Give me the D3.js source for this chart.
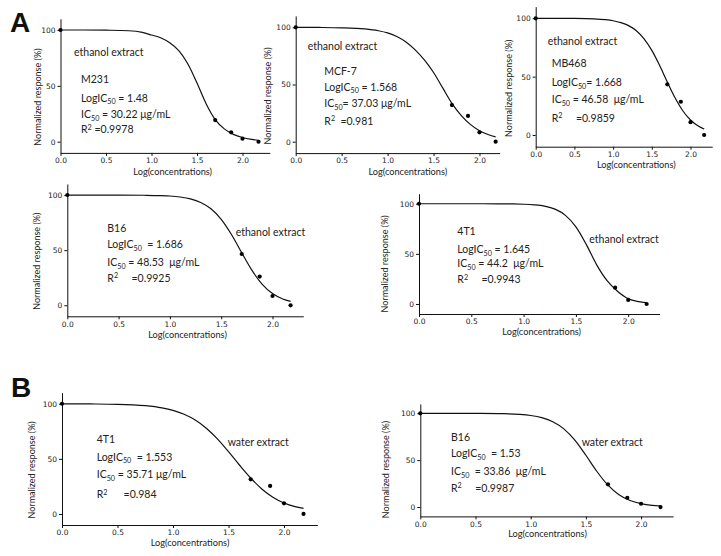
<!DOCTYPE html>
<html>
<head>
<meta charset="utf-8">
<script src="https://cdn.jsdelivr.net/npm/d3@7/dist/d3.min.js"></script>
<style>
  html, body { margin: 0; padding: 0; background: #fff; }
  svg { display: block; }
  text { white-space: pre; }
</style>
</head>
<body>
<svg id="chart" width="721" height="556"></svg>
<script>
// ---------------- DATA ----------------
const xTicks = [0, 0.5, 1.0, 1.5, 2.0];
const yTicks = [0, 50, 100];

// dose points (log concentration)
const doseX = [0, 1.7, 1.875, 2.0, 2.176];
const doseX4T1Eth = [0, 1.875, 2.0, 2.176];

// measured responses (%)
const m231Y     = [100, 19.4, 8.4, 2.7, 0];
const mcf7Y     = [100, 32, 22.5, 8.2, 0];
const mb468Y    = [100, 43.4, 28.5, 11, 0];
const b16EthY   = [100, 46.5, 26, 8.4, 0];
const t41EthY   = [100, 16.3, 4, 0];
const t41WatY   = [100, 31.4, 25.4, 9.7, 0];
const b16WatY   = [100, 24.2, 9.9, 3.5, 0];

// fitted curve at these x positions
const curveX = [0, 0.25, 0.5, 0.75, 0.9, 1.0, 1.1, 1.2, 1.3, 1.4, 1.5, 1.6, 1.7, 1.8, 1.9, 2.0, 2.1, 2.176];
const m231Fit   = [100, 100, 99.8, 99.3, 97.8, 95.5, 93, 88.5, 81.5, 69.5, 52.5, 34, 19.8, 11.5, 6.6, 3.8, 2.1, 1.2];
const mcf7Fit   = [100, 99.9, 99.6, 98.6, 97.0, 95.1, 92.0, 87.2, 80.3, 71.5, 60.5, 47, 33.5, 23.0, 15.1, 9.6, 6.0, 4.2];
const mb468Fit  = [100, 100, 99.9, 99.5, 98.8, 97.9, 96.3, 93.7, 89.3, 82.4, 72.5, 59.7, 45.4, 31.9, 20.8, 12.9, 7.7, 5.1];
const b16EthFit = [100, 100, 100, 99.8, 99.5, 99.1, 98.2, 96.5, 93.2, 87.5, 78.0, 64.2, 47.6, 31.6, 19.0, 10.6, 5.7, 3.5];
const t41EthFit = [100, 100, 100, 99.9, 99.8, 99.5, 98.9, 97.6, 94.6, 88.4, 76.9, 59.2, 38.8, 23, 12.5, 5.2, 2.3, 1.2];
const t41WatFit = [99.95, 99.8, 99.5, 98.2, 96.2, 93.9, 90.4, 85.2, 77.8, 68.1, 56.5, 44.2, 32.6, 22.7, 15.2, 9.9, 6.6, 5.0];
const b16WatFit = [100, 100, 99.9, 99.6, 98.8, 97.6, 95.3, 91.0, 83.4, 71.4, 55.2, 37.9, 23.3, 13.1, 6.9, 3.6, 1.8, 1.1];

// annotation texts
const m231Text   = ["M231", "LogIC_{50} = 1.48", "IC_{50} = 30.22 μg/mL", "R^{2} =0.9978"];
const mcf7Text   = ["MCF-7", "LogIC_{50} = 1.568", "IC_{50}= 37.03 μg/mL", "R^{2}  =0.981"];
const mb468Text  = ["MB468", "LogIC_{50}= 1.668", "IC_{50} = 46.58  μg/mL", "R^{2}     =0.9859"];
const b16EthText = ["B16", "LogIC_{50}  = 1.686", "IC_{50} = 48.53  μg/mL", "R^{2}     =0.9925"];
const t41EthText = ["4T1", "LogIC_{50} = 1.645", "IC_{50} = 44.2  μg/mL", "R^{2}     =0.9943"];
const t41WatText = ["4T1", "LogIC_{50}  = 1.553", "IC_{50} = 35.71 μg/mL", "R^{2}      =0.984"];
const b16WatText = ["B16", "LogIC_{50}  = 1.53", "IC_{50}  = 33.86  μg/mL", "R^{2}     =0.9987"];

const yLabel = "Normalized response (%)";
const xLabel = "Log(concentrations)";

// ---------------- LAYOUT ----------------
const panels = [
  {px: doseX, py: m231Y, fit: m231Fit, text: m231Text, ext: "ethanol extract",
   L: 60.5, R: 269.8, xMax: 2.3, T: 18.8, B: 152.9,
   extPos: [74, 56], blk: [81, [83.3, 101.7, 118.3, 133.3]], yl: 37, xl: [172.7, 175]},
  {px: doseX, py: mcf7Y, fit: mcf7Fit, text: mcf7Text, ext: "ethanol extract",
   L: 295.7, R: 499.7, xMax: 2.22, T: 15.9, B: 153.1,
   extPos: [307.7, 50], blk: [324.3, [75, 90.7, 107.3, 125]], yl: 267.5, xl: [407.8, 174.5]},
  {px: doseX, py: mb468Y, fit: mb468Fit, text: mb468Text, ext: "ethanol extract",
   L: 535.7, R: 712.2, xMax: 2.28, T: 6.6, B: 146.7,
   extPos: [547.7, 45], blk: [551.7, [66.7, 86, 103.3, 121.7]], yl: 508.5, xl: [636.3, 168]},
  {px: doseX, py: b16EthY, fit: b16EthFit, text: b16EthText, ext: "ethanol extract",
   L: 67.3, R: 303.3, xMax: 2.3, T: 184, B: 316.3,
   extPos: [235.7, 236], blk: [107.3, [231.7, 248.3, 266, 281.7]], yl: 36.5, xl: [187.5, 337.5]},
  {px: doseX4T1Eth, py: t41EthY, fit: t41EthFit, text: t41EthText, ext: "ethanol extract",
   L: 419, R: 659.6, xMax: 2.3, T: 193.7, B: 314,
   extPos: [589.3, 243.3], blk: [457.3, [235, 253.3, 267.3, 283.3]], yl: 384.5, xl: [541.7, 335]},
  {px: doseX, py: t41WatY, fit: t41WatFit, text: t41WatText, ext: "water extract",
   L: 62, R: 317.3, xMax: 2.3, T: 392.7, B: 525,
   extPos: [227.7, 446], blk: [96.7, [442.7, 460.7, 478.3, 498.3]], yl: 31.5, xl: [190, 546]},
  {px: doseX, py: b16WatY, fit: b16WatFit, text: b16WatText, ext: "water extract",
   L: 420.3, R: 673.1, xMax: 2.29, T: 403.9, B: 516.4,
   extPos: [581.7, 446], blk: [451, [440.7, 457.3, 475, 491.7]], yl: 385, xl: [547.5, 536.5]}
];

const svg = d3.select("#chart");
const annFont = "Lato, 'Open Sans', sans-serif";
const tickFont = "'DejaVu Sans', Verdana, sans-serif";

function addRich(sel, str) {
  // parse _{..} subscripts and ^{..} superscripts
  const re = /(_\{[^}]*\}|\^\{[^}]*\})/g;
  const parts = str.split(re).filter(s => s.length);
  let shift = 0;
  parts.forEach(p => {
    if (p.startsWith("_{")) {
      sel.append("tspan").attr("dy", 2.6 - shift).attr("font-size", 7.2).text(p.slice(2, -1));
      shift = 2.6;
    } else if (p.startsWith("^{")) {
      sel.append("tspan").attr("dy", -3.8 - shift).attr("font-size", 7.2).text(p.slice(2, -1));
      shift = -3.8;
    } else {
      sel.append("tspan").attr("dy", -shift).text(p);
      shift = 0;
    }
  });
}

panels.forEach(p => {
  const x = d3.scaleLinear().domain([0, p.xMax]).range([p.L, p.R]);
  const y = d3.scaleLinear().domain([-10, 110]).range([p.B, p.T]);
  const g = svg.append("g");

  const xa = g.append("g").attr("transform", `translate(0,${p.B})`)
    .call(d3.axisBottom(x).tickValues(xTicks).tickFormat(d3.format(".1f")).tickSize(3).tickSizeOuter(0).tickPadding(2));
  const ya = g.append("g").attr("transform", `translate(${p.L},0)`)
    .call(d3.axisLeft(y).tickValues(yTicks).tickSize(3).tickSizeOuter(0).tickPadding(2));
  [xa, ya].forEach(a => {
    a.selectAll("path, line").attr("stroke", "#111").attr("stroke-width", 1);
    a.selectAll("text").attr("font-family", tickFont).attr("font-size", 7.5).attr("fill", "#222");
  });

  // fitted curve
  const line = d3.line().x(d => x(d[0])).y(d => y(d[1])).curve(d3.curveMonotoneX);
  g.append("path").datum(curveX.map((v, i) => [v, p.fit[i]]))
    .attr("d", line).attr("fill", "none").attr("stroke", "#111").attr("stroke-width", 1.2);

  // points
  g.selectAll("circle.pt").data(p.px.map((v, i) => [v, p.py[i]])).enter()
    .append("circle").attr("cx", d => x(d[0])).attr("cy", d => y(d[1]))
    .attr("r", 2.1).attr("fill", "#000");

  // axis labels
  g.append("text").attr("transform", `translate(${p.yl},${y(40)}) rotate(-90)`)
    .attr("text-anchor", "middle").attr("dominant-baseline", "central")
    .attr("font-family", annFont).attr("font-size", 9).attr("fill", "#222").text(yLabel);
  g.append("text").attr("x", p.xl[0]).attr("y", p.xl[1]).attr("text-anchor", "middle")
    .attr("font-family", annFont).attr("font-size", 9.2).attr("fill", "#222").text(xLabel);

  // extract label
  g.append("text").attr("x", p.extPos[0]).attr("y", p.extPos[1])
    .attr("font-family", annFont).attr("font-size", 10.5).attr("fill", "#222").text(p.ext);

  // annotation block
  p.text.forEach((t, i) => {
    const te = g.append("text").attr("x", p.blk[0]).attr("y", p.blk[1][i])
      .attr("font-family", annFont).attr("font-size", 10.5).attr("fill", "#222");
    addRich(te, t);
  });
});

// panel letters
svg.append("text").attr("x", 10).attr("y", 31.7).attr("font-family", "'Liberation Sans', Arial, sans-serif")
  .attr("font-weight", "bold").attr("font-size", 28).attr("fill", "#111").text("A");
svg.append("text").attr("x", 11).attr("y", 397.3).attr("font-family", "'Liberation Sans', Arial, sans-serif")
  .attr("font-weight", "bold").attr("font-size", 28).attr("fill", "#111").text("B");
</script>
</body>
</html>
